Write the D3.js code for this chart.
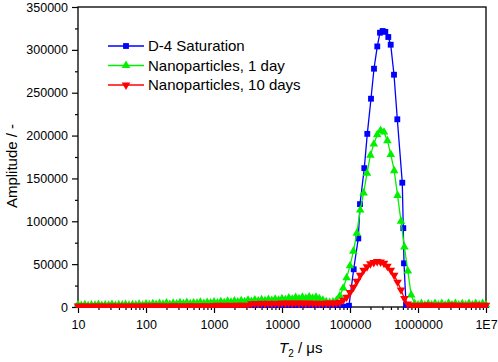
<!DOCTYPE html>
<html>
<head>
<meta charset="utf-8">
<script src="https://cdn.jsdelivr.net/npm/d3@7"></script>
<style>
  body { margin: 0; background: #fff; }
  text { font-family: "Liberation Sans", Arial, sans-serif; fill: #000; }
</style>
</head>
<body>
<div id="svg-area"></div>
<script>
var svgWidth = 498;
var svgHeight = 362;

// T2 grid (us) shared by the two nanoparticle series, 20 points per decade
var t2Grid = [
  10, 11.2, 12.6, 14.1, 15.8, 17.8, 20, 22.4, 25.1, 28.2, 31.6, 35.5, 39.8, 44.7, 50.1, 56.2, 63.1, 70.8, 79.4, 89.1,
  100, 112, 126, 141, 158, 178, 200, 224, 251, 282, 316, 355, 398, 447, 501, 562, 631, 708, 794, 891,
  1000, 1122, 1259, 1413, 1585, 1778, 1995, 2239, 2512, 2818, 3162, 3548, 3981, 4467, 5012, 5623, 6310, 7079, 7943, 8913,
  10000, 11220, 12590, 14130, 15850, 17780, 19950, 22390, 25120, 28180, 31620, 35480, 39810, 44670, 50120, 56230, 63100, 70790, 79430, 89130,
  100000, 112200, 125900, 141300, 158500, 177800, 199500, 223900, 251200, 281800, 316200, 354800, 398100, 446700, 501200, 562300, 631000, 707900, 794300, 891300,
  1000000, 1122000, 1259000, 1413000, 1585000, 1778000, 1995000, 2239000, 2512000, 2818000, 3162000, 3548000, 3981000, 4467000, 5012000, 5623000, 6310000, 7079000, 7943000, 8913000,
  10000000
];

var greenAmp = [
  2800, 1800, 2600, 1500, 2400, 2000, 2900, 1700, 2500, 2200, 3100, 1900, 2700, 2300, 3000, 2000, 2800, 2400, 3300, 2100,
  3500, 2600, 3800, 2900, 4200, 3300, 4600, 3100, 4400, 3600, 4900, 3800, 5200, 3900, 4800, 4300, 5600, 4200, 5400, 4700,
  5800, 4600, 6300, 5100, 6700, 5500, 7000, 5900, 7400, 6200, 7800, 6600, 8100, 7000, 8500, 7300, 8800, 7700, 9200, 8000,
  9800, 8600, 10400, 9200, 11000, 9700, 11500, 10100, 11800, 10300, 11400, 9800,
  8000, 6200, 5200, 5800, 7500,
  13000, 22000, 34000, 48000, 65000, 86000, 113000, 133000, 156000, 177000, 190000, 201000, 206000, 204000, 194000, 178000, 159000, 130000, 100000, 70000, 42000, 14000, 4000,
  2500, 4200, 2200, 3900, 2400, 4100, 2300, 4000, 2200, 4300, 2500, 4100, 2300, 3900, 2400, 4200, 2300, 4000, 2500, 4100, 2600
];

var redAmp = [
  1200, 900, 1100, 800, 1000, 1200, 900, 1100, 1000, 800, 1200, 1000, 900, 1100, 1000, 1200, 900, 1100, 1000, 1200,
  1300, 1100, 1200, 1400, 1100, 1300, 1200, 1000, 1400, 1200, 1300, 1100, 1200, 1400, 1300, 1100, 1200, 1400, 1300, 1200,
  1800, 2000, 1700, 2100, 1900, 2200, 1800, 2000, 2100, 1900, 2200, 3800, 4200, 3900, 4400, 4000, 4300, 4100, 4500, 4200,
  4600, 4300, 4700, 4400, 4800, 4500, 4600, 4300, 4700, 4500, 4400, 4200, 4500, 4300, 4600, 4400, 4800,
  5500, 8000, 11500, 17000, 23000, 30000, 37000, 43000, 47000, 50500, 52000, 53000, 52500, 51000, 47500, 43000, 37000, 29000, 20000, 10000, 3500, 2000,
  1800, 2200, 1700, 2000, 2300, 1800, 2100, 1900, 2200, 1700, 2000, 2300, 1800, 2100, 1900, 2200, 1800, 2000, 2300, 1900, 2100, 2000
];

// D-4 saturation has its own T2 points
var blueT2 = [
  10, 12.6, 15.8, 20, 25.1, 31.6, 39.8, 50.1, 63.1, 79.4,
  100, 126, 158, 200, 251, 316, 398, 501, 631, 794,
  1000, 1259, 1585, 1995, 2512, 3162, 3981, 5012, 6310, 7943,
  10000, 12590, 15850, 19950, 25120, 31620, 39810, 50120, 63100, 79430,
  96600, 113300, 132400, 140300, 162300, 179600, 203600, 225400, 251900, 276100, 302000, 330500,
  365700, 396800, 443700, 496400, 587400, 607800, 622300, 666600,
  794300, 1000000, 1259000, 1585000, 1995000, 2512000, 3162000, 3981000, 5012000, 6310000, 7943000, 10000000
];
var blueAmp = [
  600, 400, 700, 500, 600, 400, 700, 500, 600, 400,
  700, 500, 600, 400, 700, 500, 600, 400, 700, 500,
  600, 400, 700, 500, 600, 400, 700, 500, 600, 400,
  700, 500, 600, 400, 700, 500, 600, 400, 700, 500,
  1500, 44000, 80000, 120000, 162000, 202000, 243000, 278000, 304000, 320000, 322000, 321000,
  315000, 306000, 271000, 219000, 145000, 92000, 51000, 2500,
  600, 400, 700, 500, 600, 400, 700, 500, 600, 400, 700, 500
];

var yTicks = [0, 50000, 100000, 150000, 200000, 250000, 300000, 350000];
var xTicks = [10, 100, 1000, 10000, 100000, 1000000, 10000000];
var xTickLabels = ["10", "100", "1000", "10000", "100000", "1000000", "1E7"];

var seriesNames = ["D-4 Saturation", "Nanoparticles, 1 day", "Nanoparticles, 10 days"];
var seriesColors = ["#0000ff", "#00f000", "#ff0000"];

var plotLeft = 78, plotRight = 486, plotTop = 7, plotBottom = 307;

var svg = d3.select("#svg-area")
  .append("svg")
  .attr("width", svgWidth)
  .attr("height", svgHeight);

var xScale = d3.scaleLog()
  .domain([10, 10000000])
  .range([plotLeft, plotRight]);

var yScale = d3.scaleLinear()
  .domain([0, 350000])
  .range([plotBottom, plotTop]);

// minor ticks
var xMinor = [];
xTicks.slice(0, -1).forEach(function(d) {
  for (var m = 2; m <= 9; m++) xMinor.push(d * m);
});
var yMinor = yTicks.slice(0, -1).map(function(d) { return d + 25000; });

svg.append("g")
  .attr("transform", "translate(0," + plotBottom + ")")
  .call(d3.axisBottom(xScale).tickValues(xMinor).tickSize(3).tickFormat(""))
  .call(g => g.select(".domain").remove());

svg.append("g")
  .attr("transform", "translate(" + plotLeft + ",0)")
  .call(d3.axisLeft(yScale).tickValues(yMinor).tickSize(3).tickFormat(""))
  .call(g => g.select(".domain").remove());

var xAxis = svg.append("g")
  .attr("transform", "translate(0," + plotBottom + ")")
  .call(d3.axisBottom(xScale).tickValues(xTicks).tickSize(6)
    .tickFormat((d, i) => xTickLabels[i]));
xAxis.select(".domain").remove();
xAxis.selectAll("text").attr("font-size", "12.5px").attr("dy", "1.05em")
  .style("font-family", "Liberation Sans, Arial, sans-serif");

var yAxis = svg.append("g")
  .attr("transform", "translate(" + plotLeft + ",0)")
  .call(d3.axisLeft(yScale).tickValues(yTicks).tickSize(6).tickFormat(d3.format("d")));
yAxis.select(".domain").remove();
yAxis.selectAll("text").attr("font-size", "12.5px").attr("x", -10)
  .style("font-family", "Liberation Sans, Arial, sans-serif");

svg.selectAll(".tick line").attr("stroke", "#000").attr("stroke-width", 1.2);

// frame
svg.append("rect")
  .attr("x", plotLeft).attr("y", plotTop)
  .attr("width", plotRight - plotLeft).attr("height", plotBottom - plotTop)
  .attr("fill", "none").attr("stroke", "#111").attr("stroke-width", 1.4);

svg.append("clipPath").attr("id", "plotclip")
  .append("rect").attr("x", plotLeft - 5).attr("y", plotTop)
  .attr("width", plotRight - plotLeft + 10).attr("height", plotBottom - plotTop + 1);

var lineGenerator = d3.line()
  .x(d => xScale(d[0]))
  .y(d => yScale(d[1]));

var square = d3.symbol().type(d3.symbolSquare).size(34);
var tri = d3.symbol().type(d3.symbolTriangle).size(32);

var series = [
  { pts: d3.zip(blueT2, blueAmp), color: seriesColors[0], sym: square, rot: 0 },
  { pts: d3.zip(t2Grid, greenAmp), color: seriesColors[1], sym: tri, rot: 0 },
  { pts: d3.zip(t2Grid, redAmp), color: seriesColors[2], sym: tri, rot: 180 }
];

var plot = svg.append("g").attr("clip-path", "url(#plotclip)");

series.forEach(function(s) {
  plot.append("path")
    .attr("fill", "none")
    .attr("stroke", s.color)
    .attr("stroke-width", 1.3)
    .attr("d", lineGenerator(s.pts));
  plot.selectAll(null)
    .data(s.pts)
    .enter()
    .append("path")
    .attr("d", s.sym())
    .attr("fill", s.color)
    .attr("transform", d => "translate(" + xScale(d[0]) + "," + yScale(d[1]) + ") rotate(" + s.rot + ")");
});

// legend
var legendY = [46, 65.5, 85];
series.forEach(function(s, i) {
  var g = svg.append("g").attr("transform", "translate(0," + legendY[i] + ")");
  g.append("line").attr("x1", 108).attr("x2", 144).attr("stroke", s.color).attr("stroke-width", 1.3);
  g.append("path").attr("d", s.sym()).attr("fill", s.color)
    .attr("transform", "translate(126,0) rotate(" + s.rot + ")");
  g.append("text").attr("x", 148).attr("dy", "0.36em").attr("font-size", "15px").text(seriesNames[i]);
});

// axis titles
var xt = svg.append("text").attr("x", 279).attr("y", 353).attr("font-size", "15px");
xt.append("tspan").attr("font-style", "italic").text("T");
xt.append("tspan").attr("font-size", "10px").attr("dy", 4).text("2");
xt.append("tspan").attr("dy", -4).text(" / μs");

svg.append("text")
  .attr("transform", "translate(17,166) rotate(-90)")
  .attr("text-anchor", "middle")
  .attr("font-size", "15px")
  .text("Amplitude / -");
</script>
</body>
</html>
